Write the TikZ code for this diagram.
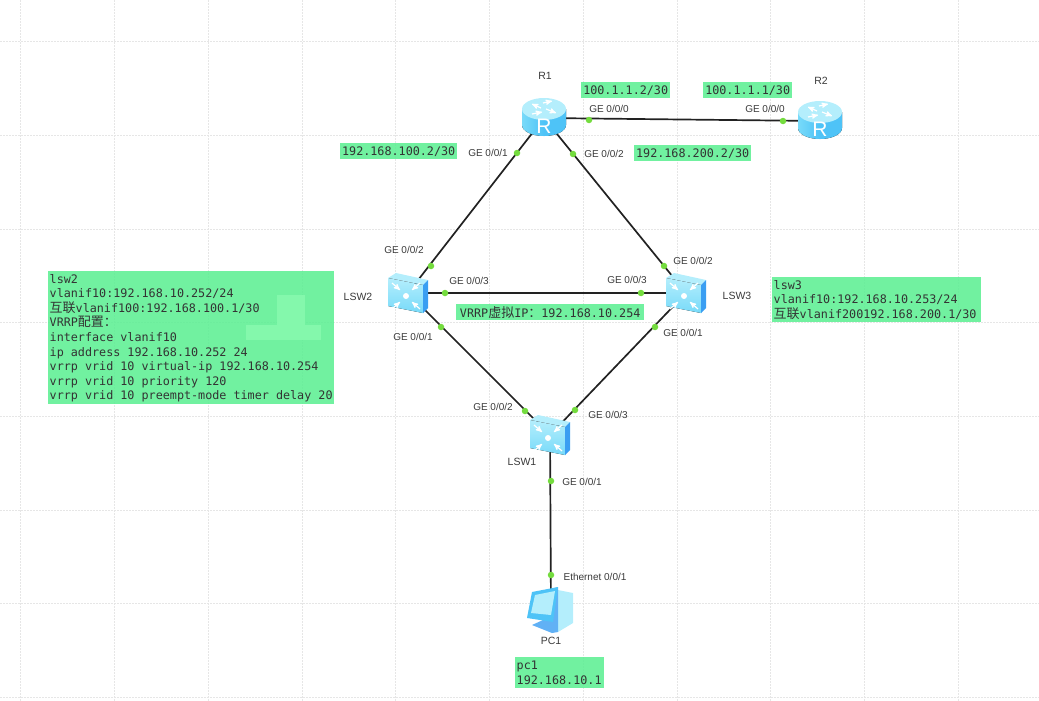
\documentclass[tikz,border=0pt]{standalone}
\usepackage{fontspec}
\setmainfont{Liberation Sans}
\setmonofont{DejaVu Sans Mono}
\newfontfamily\cjk{Noto Sans CJK SC}
\usetikzlibrary{arrows}
\definecolor{boxgreen}{HTML}{5DEF93}
\definecolor{patchgreen}{HTML}{84F8AC}
\definecolor{gridgray}{HTML}{E6E6E6}
\definecolor{portgreen}{HTML}{74DC3E}
\definecolor{linkblack}{HTML}{222222}
\definecolor{labelgray}{HTML}{3A3A3A}
\definecolor{iconlight}{HTML}{B4EEFC}
\definecolor{iconmid}{HTML}{78DAF9}
\definecolor{icondark}{HTML}{4EC3F7}
\definecolor{iconblue}{HTML}{3A9EF2}
\newcommand{\han}[1]{{\fontsize{13}{14.6}\cjk #1}}

\begin{document}
\begin{tikzpicture}[x=1pt,y=-1pt,
    >=stealth',
    gridline/.style = {
      gridgray,
      dash pattern = on 2pt off 1pt,
      line width = 1pt
    },
    link/.style = {
      linkblack,
      line width = 1.7pt
    },
    device/.style = {
      inner sep = 0pt,
      minimum size = 0pt
    },
    dot/.style = {
      circle,
      fill = portgreen,
      inner sep = 0pt,
      minimum size = 6.5pt
    },
    port/.style = {
      text = labelgray,
      inner sep = 0pt,
      font = \fontsize{10}{12}\selectfont
    },
    devname/.style = {
      text = labelgray,
      inner sep = 0pt,
      font = \fontsize{10.5}{12}\selectfont
    },
    notetext/.style = {
      anchor = north west,
      text = black!80,
      inner xsep = 1.5pt,
      inner ysep = 0pt,
      align = left,
      font = \fontsize{11.75}{14.6}\selectfont\ttfamily,
      execute at begin node = {\spaceskip=7.07pt\xspaceskip=7.07pt\relax}
    },
    note/.style = {
      notetext,
      fill = boxgreen,
      fill opacity = 0.88,
      text opacity = 1
    },
    whitearrow/.style = {
      white,
      line width = 1.2pt,
      ->
    },
    pics/router/.style = {
      code = {
        \fill[left color=iconmid,right color=icondark,middle color=icondark]
          (-22,-9) -- (-22,7) arc[start angle=180,end angle=360,x radius=22pt,y radius=11pt]
          -- (22,-9) -- cycle;
        \fill[iconlight] (0,-9) ellipse[x radius=22pt,y radius=11pt];
        \draw[whitearrow] (-3,-10) -- (-12,-14);
        \draw[whitearrow] (-1,-15) -- (8,-17);
        \draw[whitearrow] (2,-9) -- (12,-5);
        \draw[whitearrow] (-12,-4) -- (-2,-6);
        \node[white,inner sep=0pt,font=\fontsize{21}{21}\selectfont] (-name) at (0,8) {R};
      }
    },
    pics/switchbox/.style = {
      code = {
        \fill[iconlight] (-20,-15) -- (-12,-20) -- (20,-13) -- (15,-8) -- cycle;
        \fill[top color=iconlight,bottom color=iconmid] (-20,-15) -- (15,-8) -- (15,20) -- (-20,13) -- cycle;
        \fill[iconblue] (15,-8) -- (20,-13) -- (20,15) -- (15,20) -- cycle;
        \fill[white] (-2,3) circle[radius=3pt];
        \foreach \dx/\dy in {-1/-1,1/-1,1/1,-1/1} {
          \draw[whitearrow] ({-2+14*\dx},{3+13*\dy}) -- ({-2+6*\dx},{3+6*\dy});
        }
      }
    },
    pics/computer/.style = {
      code = {
        \fill[iconlight] (7,-20) -- (22,-17) -- (22,13) -- (7,22) -- cycle;
        \fill[iconblue!80] (-2,-20) -- (7,-23) -- (7,22) -- (1,23) -- (-19,15) -- (-8,10) -- cycle;
        \fill[icondark] (-19,-18) -- (7,-23) -- (2,12) -- (-24,8) -- cycle;
        \fill[iconlight] (-16,-15) -- (4,-19) -- (0,5) -- (-20,3) -- cycle;
      }
    }
  ]
  \path[use as bounding box] (0,0) rectangle (1039,701);

  % grid of the canvas
  \foreach \gx in {20,114,208,302,395,489,583,677,770,864,958}
    \draw[gridline] (\gx,0) -- (\gx,701);
  \foreach \gy in {42,135,229,322,416,510,603,697}
    \draw[gridline] (0,\gy) -- (1039,\gy);

  \node[device] (R1)   at (544,118) {};
  \node[device] (R2)   at (820,121) {};
  \node[device] (LSW2) at (408,293) {};
  \node[device] (LSW3) at (686,293) {};
  \node[device] (LSW1) at (550,435) {};
  \node[device] (PC1)  at (551,610) {};

  \draw[link] (R1) -- (R2);
  \draw[link] (R1) -- (LSW2);
  \draw[link] (R1) -- (LSW3);
  \draw[link] (LSW2) -- (LSW3);
  \draw[link] (LSW2) -- (LSW1);
  \draw[link] (LSW3) -- (LSW1);
  \draw[link] (LSW1) -- (PC1);

  \pic at (R1) {router};
  \pic at (R2) {router};
  \pic at (LSW2) {switchbox};
  \pic at (LSW3) {switchbox};
  \pic at (LSW1) {switchbox};
  \pic at (PC1) {computer};

  \node[dot] (dotR1a)   at (589,120) {};
  \node[dot] (dotR2a)   at (783,121) {};
  \node[dot] (dotR1b)   at (517,153) {};
  \node[dot] (dotR1c)   at (573,154) {};
  \node[dot] (dotLSW2a) at (431,266) {};
  \node[dot] (dotLSW3a) at (664,266) {};
  \node[dot] (dotLSW2b) at (445,293) {};
  \node[dot] (dotLSW3b) at (641,293) {};
  \node[dot] (dotLSW2c) at (441,327) {};
  \node[dot] (dotLSW3c) at (655,327) {};
  \node[dot] (dotLSW1a) at (525,411) {};
  \node[dot] (dotLSW1b) at (575,410) {};
  \node[dot] (dotLSW1c) at (551,481) {};
  \node[dot] (dotPC1)   at (551,575) {};

  \node[devname] (nameR1)   at (545,76)  {R1};
  \node[devname] (nameR2)   at (821,81)  {R2};
  \node[devname] (nameLSW2) at (358,297) {LSW2};
  \node[devname] (nameLSW3) at (737,296) {LSW3};
  \node[devname] (nameLSW1) at (522,462) {LSW1};
  \node[devname] (namePC1)  at (551,641) {PC1};

  \node[port] (portR1a)   at (609,109) {GE 0/0/0};
  \node[port] (portR2a)   at (765,109) {GE 0/0/0};
  \node[port] (portR1b)   at (488,153) {GE 0/0/1};
  \node[port] (portR1c)   at (604,154) {GE 0/0/2};
  \node[port] (portLSW2a) at (404,250) {GE 0/0/2};
  \node[port] (portLSW3a) at (693,261) {GE 0/0/2};
  \node[port] (portLSW2b) at (469,281) {GE 0/0/3};
  \node[port] (portLSW3b) at (627,280) {GE 0/0/3};
  \node[port] (portLSW2c) at (413,337) {GE 0/0/1};
  \node[port] (portLSW3c) at (683,333) {GE 0/0/1};
  \node[port] (portLSW1a) at (493,407) {GE 0/0/2};
  \node[port] (portLSW1b) at (608,415) {GE 0/0/3};
  \node[port] (portLSW1c) at (582,482) {GE 0/0/1};
  \node[port] (portPC1)   at (595,577) {Ethernet 0/0/1};

  \node[note,minimum width=89pt,minimum height=16pt] (ipR1a) at (581,82)  {100.1.1.2/30};
  \node[note,minimum width=89pt,minimum height=16pt] (ipR2a) at (703,82)  {100.1.1.1/30};
  \node[note,minimum width=117pt,minimum height=16pt] (ipR1b) at (340,143) {192.168.100.2/30};
  \node[note,minimum width=117pt,minimum height=16pt] (ipR1c) at (634,145) {192.168.200.2/30};
  \node[note,minimum width=188pt,minimum height=16pt] (ipVRRP) at (456,304) {VRRP\han{虚拟}IP\han{：}192.168.10.254};

  % blurred spots on the lsw2 note
  \node[note,text width=283pt,minimum height=133pt] (noteLSW2) at (48,271) {};
  \fill[patchgreen] (277,295) rectangle (305,340);
  \fill[patchgreen] (246,325) rectangle (321,340);
  \node[notetext] (textLSW2) at (48,274) {lsw2\\
    vlanif10:192.168.10.252/24\\
    \han{互联}vlanif100:192.168.100.1/30\\
    VRRP\han{配置：}\\
    interface vlanif10\\
    ip address 192.168.10.252 24\\
    vrrp vrid 10 virtual-ip 192.168.10.254\\
    vrrp vrid 10 priority 120\\
    vrrp vrid 10 preempt-mode timer delay 20};
  \node[note,text width=206pt,minimum height=45pt] (noteLSW3) at (772,277) {lsw3\\
    vlanif10:192.168.10.253/24\\
    \han{互联}vlanif200192.168.200.1/30};
  \node[note,text width=86pt,minimum height=31pt] (notePC1) at (515,657) {pc1\\
    192.168.10.1};
\end{tikzpicture}
\end{document}
